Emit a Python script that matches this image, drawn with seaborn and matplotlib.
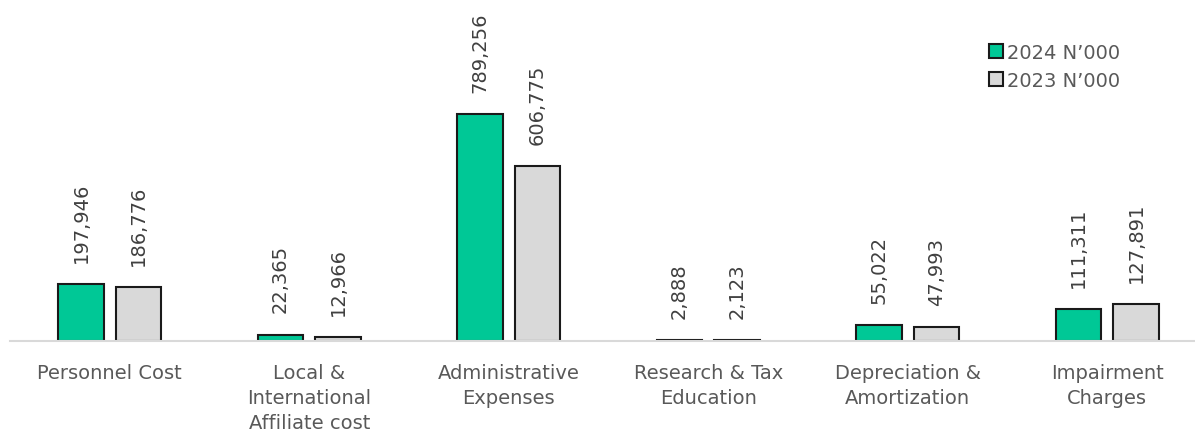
import matplotlib
matplotlib.use("Agg")
import matplotlib.pyplot as plt
import seaborn as sns
import pandas as pd

categories = ["Personnel Cost", "Local &\nInternational\nAffiliate cost", "Administrative\nExpenses",
              "Research & Tax\nEducation", "Depreciation &\nAmortization", "Impairment\nCharges"]
series_names = ["2024 N\u2019000", "2023 N\u2019000"]
values_2024 = [197946, 22365, 789256, 2888, 55022, 111311]
values_2023 = [186776, 12966, 606775, 2123, 47993, 127891]

df = pd.DataFrame({
    "category": categories * 2,
    "series": [series_names[0]] * len(categories) + [series_names[1]] * len(categories),
    "value": values_2024 + values_2023,
})

sns.set_theme(style="white")
plt.rcParams['font.family'] = ['DejaVu Sans']

fig = plt.figure(figsize=(11.95, 4.35), dpi=100)
ax = fig.add_axes([10 / 1195, 1 - 342 / 435, 1185 / 1195, 342 / 435])

palette = {series_names[0]: "#00C896", series_names[1]: "#D9D9D9"}
sns.barplot(data=df, x="category", y="value", hue="series", order=categories,
            hue_order=series_names, palette=palette, width=0.577, gap=0.215,
            edgecolor="#1a1a1a", linewidth=1.5, saturation=1, ax=ax)

for cont in ax.containers:
    ax.bar_label(cont, labels=[f"{v:,.0f}" for v in cont.datavalues], rotation=90,
                 padding=16, fontsize=14, color="#404040")

ax.set_xlim(-0.5, 5.44)
ax.set_ylim(0, 1188700)
ax.set_xlabel("")
ax.set_ylabel("")
ax.set_yticks([])
for s in ["top", "right", "left"]:
    ax.spines[s].set_visible(False)
ax.spines["bottom"].set_color("#D9D9D9")
ax.spines["bottom"].set_linewidth(1.5)
ax.tick_params(axis="x", length=0, pad=16, labelsize=14, labelcolor="#595959")
for t in ax.get_xticklabels():
    t.set_linespacing(1.4)

leg = ax.legend(loc="upper left", bbox_to_anchor=(971 / 1185, 1 - 36 / 342), frameon=False,
                fontsize=14, handlelength=0.75, handleheight=0.75, handletextpad=0.2,
                labelspacing=0.45, borderaxespad=0)
for txt in leg.get_texts():
    txt.set_color("#595959")

fig.savefig("out.png", dpi=100)
